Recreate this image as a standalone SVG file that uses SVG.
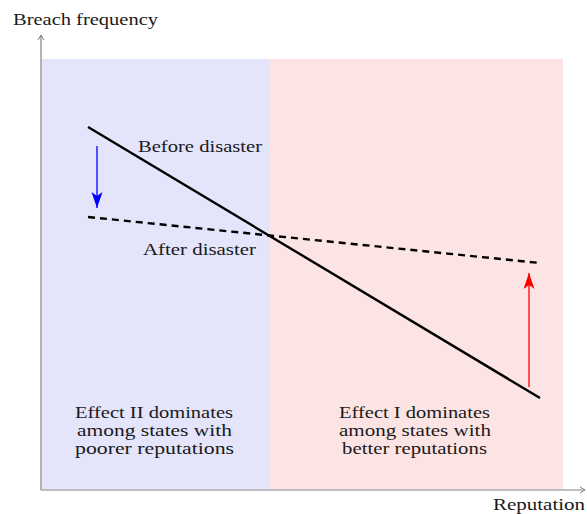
<svg xmlns="http://www.w3.org/2000/svg" width="587" height="514" viewBox="0 0 587 514">
<style>
text{font-family:"Liberation Serif","DejaVu Serif",serif;font-size:17px;fill:#1a1a1a}
.axis{stroke:#808080;stroke-width:1.2;fill:none}
.solid{stroke:#000;stroke-width:2.4;fill:none}
.dash{stroke:#000;stroke-width:2.4;fill:none;stroke-dasharray:7,5}
</style>
<defs>
<marker id="ax" markerWidth="8" markerHeight="8" refX="6" refY="4" orient="auto" markerUnits="userSpaceOnUse">
<path d="M1,1 L6,4 L1,7" fill="none" stroke="#808080" stroke-width="1"/>
</marker>
<marker id="bh" markerWidth="18" markerHeight="13" refX="16" refY="5.5" orient="auto" markerUnits="userSpaceOnUse">
<path d="M0,0 L16,5.5 L0,11 L4,5.5 Z" fill="#0000ff"/>
</marker>
<marker id="rh" markerWidth="18" markerHeight="13" refX="16" refY="5.5" orient="auto" markerUnits="userSpaceOnUse">
<path d="M0,0 L16,5.5 L0,11 L4,5.5 Z" fill="#ff0000"/>
</marker>
</defs>
<g id="regions">
<rect x="42" y="59" width="227" height="430" fill="#e4e4fb"/>
<rect x="269" y="59" width="294" height="430" fill="#fde4e4"/>
</g>
<g id="axes">
<line class="axis" x1="41" y1="490" x2="41" y2="35" marker-end="url(#ax)"/>
<line class="axis" x1="41" y1="490" x2="585" y2="490" marker-end="url(#ax)"/>
</g>
<g id="connectors">
<line class="solid" x1="88" y1="127" x2="540" y2="398"/>
<line class="dash" x1="88" y1="217" x2="540" y2="263"/>
<line x1="97" y1="146" x2="97" y2="208" stroke="#0000ff" stroke-width="1.3" marker-end="url(#bh)"/>
<line x1="529" y1="387" x2="529" y2="273" stroke="#ff0000" stroke-width="1.3" marker-end="url(#rh)"/>
</g>
<g id="labels">
<text x="13" y="25" textLength="145" lengthAdjust="spacingAndGlyphs">Breach frequency</text>
<text x="138" y="152" textLength="124" lengthAdjust="spacingAndGlyphs">Before disaster</text>
<text x="143" y="255" textLength="113" lengthAdjust="spacingAndGlyphs">After disaster</text>
<text x="493" y="510" textLength="92" lengthAdjust="spacingAndGlyphs">Reputation</text>
<text x="75" y="418" textLength="158" lengthAdjust="spacingAndGlyphs">Effect II dominates</text>
<text x="77" y="436" textLength="155" lengthAdjust="spacingAndGlyphs">among states with</text>
<text x="75" y="454" textLength="159" lengthAdjust="spacingAndGlyphs">poorer reputations</text>
<text x="339" y="418" textLength="151" lengthAdjust="spacingAndGlyphs">Effect I dominates</text>
<text x="339" y="436" textLength="152" lengthAdjust="spacingAndGlyphs">among states with</text>
<text x="342" y="454" textLength="145" lengthAdjust="spacingAndGlyphs">better reputations</text>
</g>
</svg>
